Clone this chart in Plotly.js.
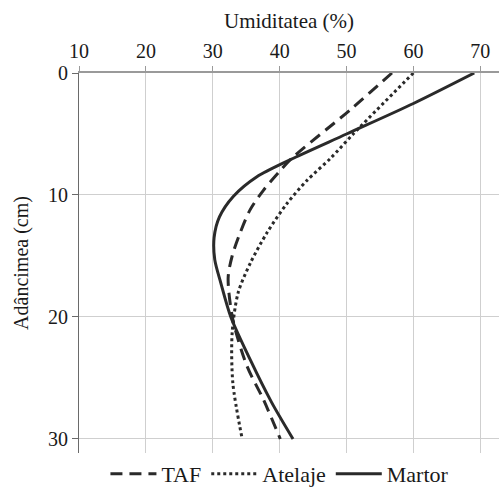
<!DOCTYPE html>
<html><head><meta charset="utf-8">
<script src="https://cdn.plot.ly/plotly-3.0.1.min.js"></script>
<style>html,body{margin:0;padding:0;background:#fff}</style>
</head><body><div id="chart" style="width:499px;height:488px"></div>
<script>
const seriesNames = ["TAF", "Atelaje", "Martor"];
const tafDepth = [0, 3, 7, 8, 9.6, 11.2, 13.1, 15, 16.8, 20.2, 24, 26.8, 30];
const tafMoist = [56.8, 50.6, 41.8, 40.1, 37.6, 35.6, 34.1, 32.9, 32.3, 33, 35.1, 37.6, 40.1];
const atelajeDepth = [0, 5, 7, 8.8, 10.7, 13.1, 15.6, 18, 21.3, 25.4, 30];
const atelajeMoist = [60, 51, 47.6, 44.1, 41.1, 38.1, 35.6, 33.8, 32.9, 33, 34.4];
const martorDepth = [0, 2.5, 5, 7.1, 8.5, 10.1, 11.8, 13.5, 15.3, 17.2, 20, 23.5, 27, 30];
const martorMoist = [69.1, 60, 50, 41.6, 36.6, 33.1, 31.0, 30.2, 30.3, 31.2, 32.7, 35.6, 38.8, 42];
const xTicks = [10, 20, 30, 40, 50, 60, 70];
const yTicks = [0, 10, 20, 30];

const fam = "Liberation Serif, DejaVu Serif";
const font = {family: fam, color: "#1a1a1a"};
const lineColor = "#2a2a2a";
const traces = [
  {x: tafMoist, y: tafDepth, name: seriesNames[0], mode: "lines",
   line: {color: lineColor, width: 3, dash: "12px,7px", shape: "spline", smoothing: 0.8}},
  {x: atelajeMoist, y: atelajeDepth, name: seriesNames[1], mode: "lines",
   line: {color: lineColor, width: 3, dash: "3px,3px", shape: "spline", smoothing: 0.8}},
  {x: martorMoist, y: martorDepth, name: seriesNames[2], mode: "lines",
   line: {color: lineColor, width: 3, shape: "spline", smoothing: 0.8}}
];
const layout = {
  width: 499, height: 488,
  margin: {l: 79, r: 0, t: 73, b: 35, autoexpand: false},
  paper_bgcolor: "#fff", plot_bgcolor: "#fff",
  font: Object.assign({size: 18}, font),
  showlegend: true,
  legend: {orientation: "h", x: 0.561, xanchor: "center", xref: "container",
           y: 0.029, yanchor: "middle", yref: "container",
           font: Object.assign({size: 22}, font), itemwidth: 46, tracegroupgap: 0,
           traceorder: "normal"},
  xaxis: {
    side: "top", range: [10, 72.8], tickvals: xTicks, ticktext: xTicks.map(String),
    showgrid: true, gridcolor: "#cfcfcf", gridwidth: 1,
    showline: true, linecolor: "#9a9a9a", linewidth: 2,
    ticks: "outside", ticklen: 5, tickcolor: "#9a9a9a",
    tickfont: Object.assign({size: 20}, font), zeroline: false,
    title: {text: "Umiditatea (%)", font: Object.assign({size: 21}, font), standoff: 6}
  },
  yaxis: {
    range: [31.15, 0], tickvals: yTicks, ticktext: yTicks.map(String),
    showgrid: true, gridcolor: "#cfcfcf", gridwidth: 1,
    showline: true, linecolor: "#6a6a6a", linewidth: 1,
    ticks: "outside", ticklen: 6, tickcolor: "#6a6a6a",
    tickfont: Object.assign({size: 20}, font), zeroline: false,
    title: {text: "Adâncimea (cm)", font: Object.assign({size: 20}, font), standoff: 14}
  }
};
Plotly.newPlot("chart", traces, layout, {displayModeBar: false, staticPlot: true});
</script></body></html>
